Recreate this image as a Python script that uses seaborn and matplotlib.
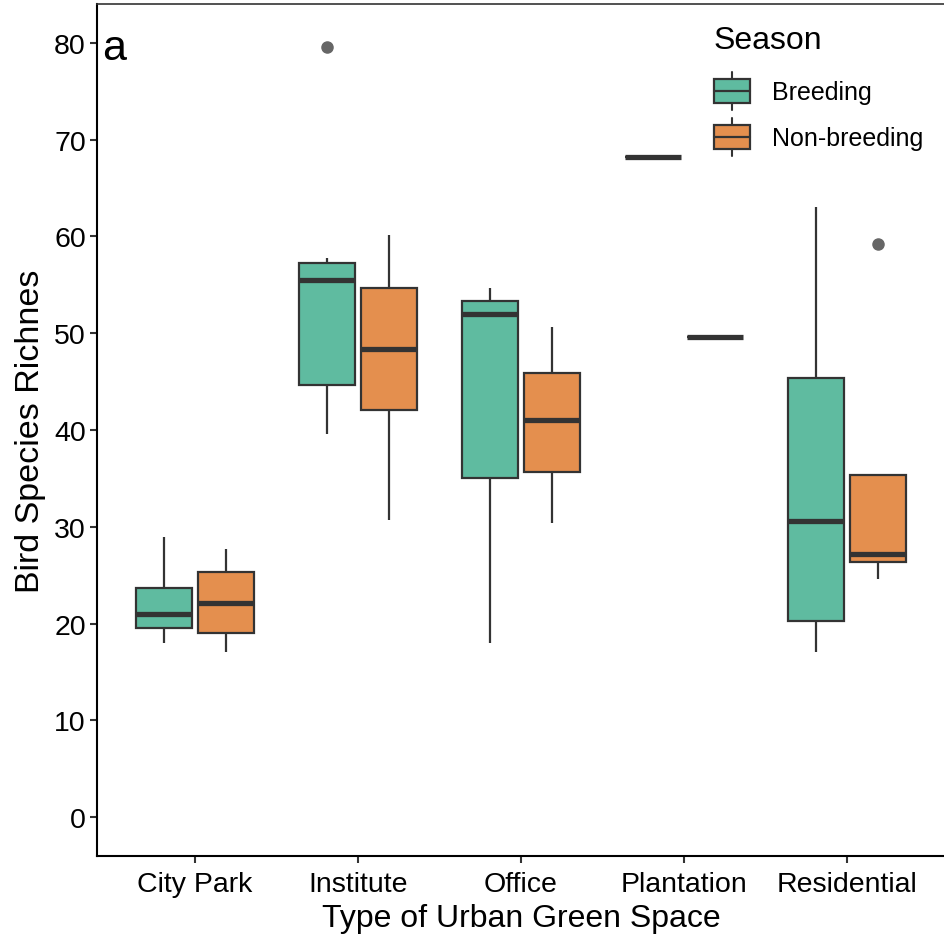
import numpy as np
import pandas as pd
import matplotlib
matplotlib.use("Agg")
import matplotlib.pyplot as plt
import seaborn as sns
from matplotlib.legend_handler import HandlerBase
from matplotlib.patches import Rectangle
from matplotlib.lines import Line2D

# ---------------- data ----------------
categories = ["City Park", "Institute", "Office", "Plantation", "Residential"]
seasons = ["Breeding", "Non-breeding"]

city_park_breeding = [18.0, 19.5, 21.0, 23.7, 28.9]
city_park_nonbreeding = [17.1, 19.0, 22.1, 25.3, 27.7]
institute_breeding = [39.6, 42.0, 44.6, 50.0, 55.5, 56.5, 57.25, 57.8, 79.6]
institute_nonbreeding = [30.7, 42.1, 48.4, 54.7, 60.1]
office_breeding = [18.0, 35.0, 52.0, 53.3, 54.7]
office_nonbreeding = [30.4, 35.7, 41.0, 45.9, 50.6]
plantation_breeding = [68.2]
plantation_nonbreeding = [49.6]
residential_breeding = [17.1, 20.3, 30.6, 45.4, 63.0]
residential_nonbreeding = [24.6, 25.5, 26.4, 26.8, 27.2, 31.0, 35.4, 35.4, 59.2]

groups = {
    ("City Park", "Breeding"): city_park_breeding,
    ("City Park", "Non-breeding"): city_park_nonbreeding,
    ("Institute", "Breeding"): institute_breeding,
    ("Institute", "Non-breeding"): institute_nonbreeding,
    ("Office", "Breeding"): office_breeding,
    ("Office", "Non-breeding"): office_nonbreeding,
    ("Plantation", "Breeding"): plantation_breeding,
    ("Plantation", "Non-breeding"): plantation_nonbreeding,
    ("Residential", "Breeding"): residential_breeding,
    ("Residential", "Non-breeding"): residential_nonbreeding,
}

rows = []
for (cat, sea), vals in groups.items():
    for v in vals:
        rows.append({"Type": cat, "Season": sea, "Richness": v})
df = pd.DataFrame(rows)

colors = {"Breeding": "#5FBBA0", "Non-breeding": "#E48F4E"}
edge = "#333333"

# ---------------- figure ----------------
sns.set_theme(style="white")
plt.rcParams["font.family"] = ["Liberation Sans", "DejaVu Sans"]
plt.rcParams["text.color"] = "black"

W, H = 944, 937
fig = plt.figure(figsize=(W / 100, H / 100), dpi=100)
ax = fig.add_axes([97 / W, 1 - 857 / H, (945 - 97) / W, (857 - 5) / H])

sns.boxplot(
    data=df, x="Type", y="Richness", hue="Season",
    order=categories, hue_order=seasons, palette=colors,
    saturation=1, width=0.76, gap=0.1, linewidth=1.6, linecolor=edge,
    showcaps=False, whis=1.5,
    medianprops=dict(linewidth=3.8, color=edge, solid_capstyle="butt"),
    whiskerprops=dict(linewidth=1.6, color=edge),
    flierprops=dict(marker="o", markersize=8, markerfacecolor="#666666",
                    markeredgecolor="#666666"),
    ax=ax,
)

ax.set_xlim(-0.6, 4.6)
ax.set_ylim(-4, 84)
ax.set_yticks([0, 10, 20, 30, 40, 50, 60, 70, 80])
ax.set_xlabel("Type of Urban Green Space", fontsize=23, color="black", labelpad=4)
ax.set_ylabel("Bird Species Richnes", fontsize=24.5, color="black", labelpad=6)
ax.tick_params(axis="both", labelsize=20.5, labelcolor="black", color=edge,
               length=5, width=1.5, direction="out", bottom=True, left=True)
ax.tick_params(axis="x", pad=6)
ax.tick_params(axis="y", pad=3)

for s in ["left", "bottom"]:
    ax.spines[s].set_color("black")
    ax.spines[s].set_linewidth(1.5)
ax.spines["top"].set_color(edge)
ax.spines["top"].set_linewidth(1.2)
ax.spines["right"].set_visible(False)
ax.grid(False)

# ---------------- legend ----------------
old = ax.get_legend()
handles = list(old.legend_handles)
labels = [t.get_text() for t in old.get_texts()]
old.remove()


class BoxKeyHandler(HandlerBase):
    def create_artists(self, legend, orig_handle, xdescent, ydescent,
                       width, height, fontsize, trans):
        fc = orig_handle.get_facecolor()
        x0 = -xdescent
        y0 = -ydescent
        cx = x0 + width / 2
        yc = y0 + height / 2
        bh = height * 0.63
        whisk = Line2D([cx, cx], [y0, y0 + height], color=edge, lw=1.5,
                       transform=trans, zorder=1)
        rect = Rectangle((x0, yc - bh / 2), width, bh, facecolor=fc,
                         edgecolor=edge, lw=1.6, transform=trans, zorder=2)
        med = Line2D([x0, x0 + width], [yc, yc], color=edge, lw=1.6,
                     transform=trans, zorder=3)
        return [whisk, rect, med]


handler_map = {type(h): BoxKeyHandler() for h in handles}
leg = fig.legend(
    handles, labels, title="Season", loc="upper left",
    bbox_to_anchor=(683 / W, 1 + 5 / H), frameon=False,
    fontsize=18, title_fontsize=23, handler_map=handler_map,
    handlelength=1.45, handleheight=1.96, handletextpad=0.89,
    labelspacing=0.32, borderpad=1.24, borderaxespad=0, alignment="left",
)
# extra gap between legend title and keys (ggplot-like)
leg._legend_box.sep = 12.2
for t in leg.get_texts():
    t.set_color("black")
leg.get_title().set_color("black")

# panel tag
fig.text(102 / W, 1 - 60 / H, "a", fontsize=31, color="black", va="baseline")

fig.savefig("out.png", dpi=100)
